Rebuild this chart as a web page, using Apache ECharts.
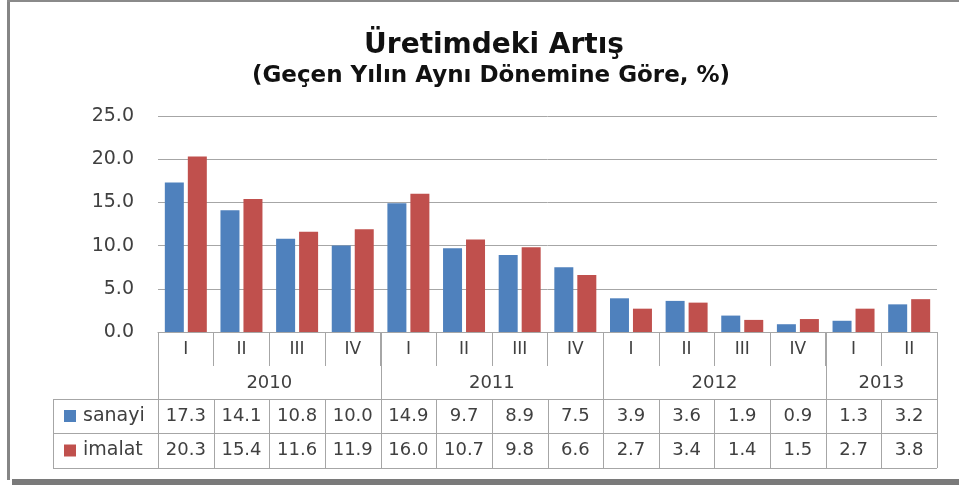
<!DOCTYPE html>
<html>
<head>
<meta charset="utf-8">
<script src="https://cdn.jsdelivr.net/npm/echarts@6/dist/echarts.min.js"></script>
<style>html,body{margin:0;padding:0;background:#fff;}#c{width:959px;height:485px;}</style>
</head>
<body>
<div id="c"></div>
<script>
var quarters = ['I','II','III','IV','I','II','III','IV','I','II','III','IV','I','II'];
var years = ['2010','2011','2012','2013'];
var yearSpans = [4,4,4,2];
var sanayi = [17.3,14.1,10.8,10.0,14.9,9.7,8.9,7.5,3.9,3.6,1.9,0.9,1.3,3.2];
var imalat = [20.3,15.4,11.6,11.9,16.0,10.7,9.8,6.6,2.7,3.4,1.4,1.5,2.7,3.8];
var yTicks = [0,5,10,15,20,25];

var BLUE = '#4f81bd', RED = '#c0504d', LINE = '#a6a6a6', TXT = '#404040';
var chart = echarts.init(document.getElementById('c'));
chart.setOption({
  animation: false,
  title: [
    {text: 'Üretimdeki Artış', left: 489, textAlign: 'center', top: 27,
     textStyle: {fontFamily: 'DejaVu Sans', fontWeight: 'bold', fontSize: 28, color: '#111'}},
    {text: '(Geçen Yılın Aynı Dönemine Göre, %)', left: 486, textAlign: 'center', top: 60,
     textStyle: {fontFamily: 'DejaVu Sans', fontWeight: 'bold', fontSize: 23, color: '#111'}}
  ],
  grid: {left: 158, right: 22, top: 116, bottom: 153, containLabel: false},
  xAxis: {
    type: 'category', data: quarters,
    axisLine: {lineStyle: {color: LINE, width: 1}},
    axisTick: {show: true, interval: 0, length: 34, lineStyle: {color: LINE}},
    axisLabel: {interval: 0, margin: 9, fontFamily: 'DejaVu Sans', fontSize: 17, color: TXT}
  },
  yAxis: {
    type: 'value', min: 0, max: 25, interval: 5,
    axisLine: {show: false}, axisTick: {show: false},
    splitLine: {lineStyle: {color: LINE, width: 1}},
    axisLabel: {margin: 24, fontFamily: 'DejaVu Sans', fontSize: 19, color: TXT,
      formatter: function (v) { return v.toFixed(1); }}
  },
  series: [
    {name: 'sanayi', type: 'bar', data: sanayi, barWidth: 19, barGap: '21%',
     itemStyle: {color: BLUE}},
    {name: 'imalat', type: 'bar', data: imalat, barWidth: 19,
     itemStyle: {color: RED}}
  ]
});

function buildTable() {
  var c0 = chart.convertToPixel({xAxisIndex: 0}, 0);
  var c1 = chart.convertToPixel({xAxisIndex: 0}, 1);
  var bw = c1 - c0;
  var left = c0 - bw / 2;
  var n = quarters.length;
  var right = left + bw * n;
  var y0 = chart.convertToPixel({yAxisIndex: 0}, 0);
  var yQ = y0 + 34, yY = y0 + 67, yR1 = y0 + 101, yR2 = y0 + 136;
  var legL = 53;
  var els = [];
  function line(x1, y1, x2, y2, color, w) {
    els.push({type: 'line', shape: {x1: x1, y1: y1, x2: x2, y2: y2},
      style: {stroke: color || LINE, lineWidth: w || 1}, silent: true});
  }
  function text(x, y, t, align, size) {
    els.push({type: 'text', x: x, y: y, style: {text: t, align: align || 'center',
      verticalAlign: 'middle', fontFamily: 'DejaVu Sans', fontSize: size || 18, fill: TXT}, silent: true});
  }
  var idx = 0;
  var bounds = [0];
  yearSpans.forEach(function (s) { idx += s; bounds.push(idx); });
  bounds.forEach(function (b) {
    var x = Math.round(left + b * bw) + 0.5;
    line(x, y0, x, yR2);
  });
  for (var k = 0; k < years.length; k++) {
    var xm = left + (bounds[k] + bounds[k + 1]) / 2 * bw;
    text(xm, (yQ + yY) / 2 + 1, years[k], 'center', 18);
  }
  for (var i = 1; i < n; i++) {
    var x = Math.round(left + i * bw) + 0.5;
    line(x, yY, x, yR2);
  }
  line(legL, Math.round(yY) + 0.5, right, Math.round(yY) + 0.5);
  line(legL, Math.round(yR1) + 0.5, right, Math.round(yR1) + 0.5);
  line(legL, Math.round(yR2) + 0.5, right, Math.round(yR2) + 0.5);
  line(legL + 0.5, yY, legL + 0.5, yR2);
  var rows = [{name: 'sanayi', data: sanayi, color: BLUE, y: (yY + yR1) / 2},
              {name: 'imalat', data: imalat, color: RED, y: (yR1 + yR2) / 2}];
  rows.forEach(function (r) {
    els.push({type: 'rect', shape: {x: 64, y: r.y - 6, width: 12, height: 12},
      style: {fill: r.color}, silent: true});
    text(83, r.y, r.name, 'left', 19);
    r.data.forEach(function (v, j) {
      text(left + (j + 0.5) * bw, r.y, v.toFixed(1), 'center', 18);
    });
  });
  els.push({type: 'rect', shape: {x: 7, y: 0, width: 3, height: 480}, style: {fill: '#858585'}, silent: true});
  els.push({type: 'rect', shape: {x: 7, y: 0, width: 952, height: 2}, style: {fill: '#8a8a8a'}, silent: true});
  els.push({type: 'rect', shape: {x: 12, y: 479, width: 947, height: 6}, style: {fill: '#7a7a7a'}, silent: true});
  chart.setOption({graphic: {elements: els}});
}
buildTable();
</script>
</body>
</html>
